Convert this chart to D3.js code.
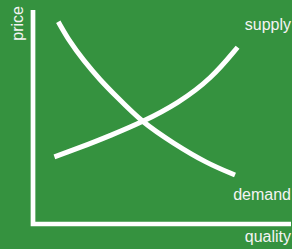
<!DOCTYPE html>
<html>
<head>
<meta charset="utf-8">
<script src="https://cdn.jsdelivr.net/npm/d3@7"></script>
<style>
  html, body { margin: 0; padding: 0; background: #35923f; }
  svg { display: block; }
  text { font-family: "Liberation Sans", Arial, sans-serif; fill: #f4f4f4; }
</style>
</head>
<body>
<div id="chart"></div>
<script>
// supply / demand curves, quantity 0..100 vs price 0..100
var demandQ = [9.8, 14.3, 19.5, 26.0, 32.4, 42.1, 54.4, 67.3, 78.3],
    demandP = [94.5, 85.0, 76.6, 67.3, 59.5, 47.7, 37.7, 28.4, 22.9];
var supplyQ = [8.3, 17.6, 30.5, 42.1, 56.3, 69.3, 79.3],
    supplyP = [31.4, 35.4, 41.6, 47.5, 56.4, 68.1, 82.6];
var axisLabels = ["quality", "price"];
var curveLabels = ["supply", "demand"];

var width = 292,
    height = 249;

var margin = {
    top: 10,
    right: 1,
    bottom: 25,
    left: 33
};

var x = d3.scaleLinear()
    .domain([0, 100])
    .range([margin.left, width - margin.right]);

var y = d3.scaleLinear()
    .domain([0, 100])
    .range([height - margin.bottom, margin.top]);

var svg = d3.select("#chart").append("svg")
    .attr("width", width)
    .attr("height", height);

var line = d3.line()
    .x(function (d) { return x(d[0]); })
    .y(function (d) { return y(d[1]); })
    .curve(d3.curveBasis);

// axes: vertical price line and horizontal quality line
svg.append("path")
    .attr("d", "M" + x(0) + "," + y(100) + "L" + x(0) + "," + y(0) + "L" + x(100) + "," + y(0))
    .attr("fill", "none")
    .attr("stroke", "#ffffff")
    .attr("stroke-width", 4.7)
    .attr("stroke-linejoin", "miter");

svg.append("path")
    .datum(d3.zip(demandQ, demandP))
    .attr("d", line)
    .attr("fill", "none")
    .attr("stroke", "#ffffff")
    .attr("stroke-width", 5);

svg.append("path")
    .datum(d3.zip(supplyQ, supplyP))
    .attr("d", line)
    .attr("fill", "none")
    .attr("stroke", "#ffffff")
    .attr("stroke-width", 5);

svg.append("text")
    .attr("x", x(100))
    .attr("y", 30)
    .attr("text-anchor", "end")
    .style("font-size", "16px")
    .text(curveLabels[0]);

svg.append("text")
    .attr("x", x(100))
    .attr("y", 200)
    .attr("text-anchor", "end")
    .style("font-size", "16px")
    .text(curveLabels[1]);

svg.append("text")
    .attr("x", x(100))
    .attr("y", 242)
    .attr("text-anchor", "end")
    .style("font-size", "16px")
    .text(axisLabels[0]);

svg.append("text")
    .attr("transform", "translate(23," + 6 + ") rotate(-90)")
    .attr("text-anchor", "end")
    .style("font-size", "16px")
    .text(axisLabels[1]);
</script>
</body>
</html>
